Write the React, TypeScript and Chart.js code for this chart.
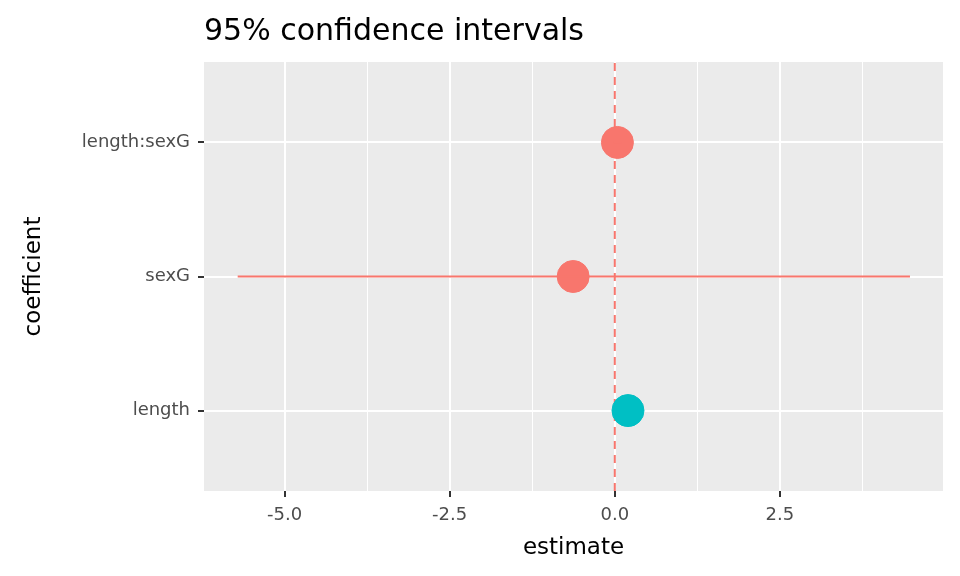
import React, { useEffect, useRef } from "react";
import { Chart, registerables } from "chart.js";
Chart.register(...registerables);

const coefficients = ["length", "sexG", "length:sexG"];
const estimates = [0.2, -0.63, 0.04];
const lowers = [0.17, -5.71, -0.02];
const uppers = [0.23, 4.47, 0.1];
const colors = ["#00BFC4", "#F8766D", "#F8766D"];
const xTicks = [-5, -2.5, 0, 2.5];

export default function App() {
  const ref = useRef<HTMLCanvasElement>(null);
  useEffect(() => {
    document.body.style.margin = "0";
    const ctx = ref.current!.getContext("2d")!;
    const intervals = coefficients.map((c, i) => ({
      type: "line" as const,
      data: [{ x: lowers[i], y: i + 1 }, { x: uppers[i], y: i + 1 }],
      borderColor: colors[i],
      borderWidth: 2,
      pointRadius: 0,
    }));
    const chart = new Chart(ctx, {
      type: "scatter",
      data: {
        datasets: [
          ...intervals,
          {
            type: "scatter",
            data: estimates.map((e, i) => ({ x: e, y: i + 1 })),
            backgroundColor: colors,
            borderColor: colors,
            pointRadius: 16,
            pointHoverRadius: 16,
          },
          {
            type: "line",
            data: [{ x: 0, y: 0.4 }, { x: 0, y: 3.6 }],
            borderColor: "#F8766D",
            borderWidth: 2,
            borderDash: [8, 6],
            pointRadius: 0,
          },
        ] as any,
      },
      options: {
        animation: false,
        responsive: false,
        layout: { padding: { top: 62, right: 16, left: 16, bottom: 0 } },
        plugins: { legend: { display: false }, tooltip: { enabled: false }, title: { display: false } },
        scales: {
          x: {
            type: "linear",
            min: -6.22,
            max: 4.97,
            afterBuildTicks: (s: any) => {
              s.ticks = [-5, -3.75, -2.5, -1.25, 0, 1.25, 2.5, 3.75].map((v) => ({ value: v }));
            },
            afterFit: (s: any) => { s.height = 85; },
            ticks: {
              autoSkip: false,
              maxRotation: 0,
              padding: 8,
              color: "#4d4d4d",
              font: { family: "DejaVu Sans", size: 18 },
              callback: (v: any) => (xTicks.includes(Number(v)) ? Number(v).toFixed(1) : ""),
            },
            grid: {
              color: "#ffffff",
              lineWidth: (c: any) => (xTicks.includes(c.tick?.value) ? 2 : 1),
              tickColor: (c: any) => (xTicks.includes(c.tick?.value) ? "#333333" : "rgba(0,0,0,0)"),
              tickLength: 6,
              drawOnChartArea: true,
            },
            border: { display: false },
            title: { display: true, text: "estimate", color: "#000", font: { family: "DejaVu Sans", size: 23 }, padding: { top: 0, bottom: 14 } },
          },
          y: {
            type: "linear",
            min: 0.4,
            max: 3.6,
            afterBuildTicks: (s: any) => { s.ticks = [1, 2, 3].map((v) => ({ value: v })); },
            afterFit: (s: any) => { s.width = 188; },
            ticks: {
              padding: 8,
              color: "#4d4d4d",
              font: { family: "DejaVu Sans", size: 18 },
              callback: (v: any) => coefficients[Number(v) - 1] ?? "",
            },
            grid: { color: "#ffffff", lineWidth: 2, tickColor: "#333333", tickLength: 6 },
            border: { display: false },
            title: { display: true, text: "coefficient", color: "#000", font: { family: "DejaVu Sans", size: 23 } },
          },
        },
      },
      plugins: [
        {
          id: "bg",
          beforeDraw: (c: any) => {
            const a = c.chartArea;
            c.ctx.save();
            c.ctx.fillStyle = "#EBEBEB";
            c.ctx.fillRect(a.left, a.top, a.right - a.left, a.bottom - a.top);
            c.ctx.restore();
          },
          afterDraw: (c: any) => {
            const x = c.ctx;
            x.save();
            x.fillStyle = "#000";
            x.font = "30px 'DejaVu Sans'";
            x.textBaseline = "alphabetic";
            x.fillText("95% confidence intervals", c.chartArea.left, 40);
            x.restore();
          },
        },
      ],
    });
    return () => chart.destroy();
  }, []);
  return (
    <div style={{ position: "absolute", left: 0, top: 0, width: 960, height: 576 }}>
      <canvas ref={ref} width={960} height={576} />
    </div>
  );
}
